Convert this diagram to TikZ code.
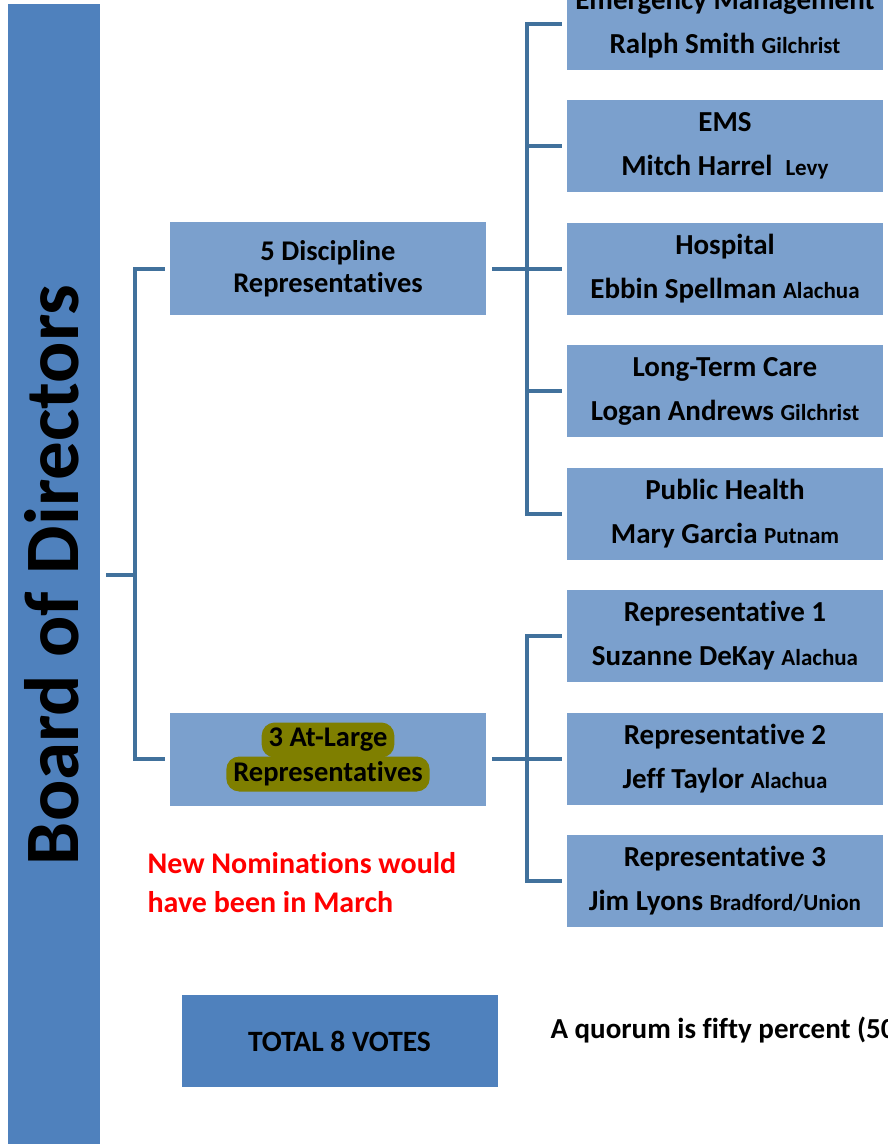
\documentclass[tikz,border=0pt]{standalone}
\usepackage{fontspec}
\setmainfont{Carlito}[Ligatures=NoCommon]
\definecolor{barblue}{HTML}{4F81BD}
\definecolor{boxblue}{HTML}{7BA0CD}
\definecolor{lineblue}{HTML}{41719C}
\definecolor{hl}{HTML}{7F7F00}
\newcommand{\cty}[1]{{\fontsize{23}{44}\selectfont #1}}
\begin{document}
\begin{tikzpicture}[x=1pt,y=-1pt,
  bar/.style={fill=barblue,draw=none,inner sep=0pt,minimum width=92pt,minimum height=1140pt},
  grp/.style={fill=boxblue,draw=none,inner sep=0pt,minimum width=316pt,minimum height=93pt,align=center,font=\bfseries\fontsize{28.5}{32}\selectfont},
  rbox/.style={fill=boxblue,draw=none,inner sep=0pt,minimum width=316pt,minimum height=92pt,align=center,font=\bfseries\fontsize{29}{44}\selectfont},
  conn/.style={draw=lineblue,line width=4pt},
  hlbox/.style={fill=hl,rounded corners=13pt,inner xsep=7pt,inner ysep=0pt,minimum height=35pt,font=\bfseries\fontsize{28.5}{32}\selectfont},
  tot/.style={fill=barblue,draw=none,inner sep=0pt,minimum width=316pt,minimum height=92pt,font=\bfseries\fontsize{29.5}{30}\selectfont},
]
\clip (0,0) rectangle (888,1144);
\useasboundingbox (0,0) rectangle (888,1144);
\fill[white] (0,0) rectangle (888,1144);

\node[bar] (bar) at (54,574) {};
\node[rotate=90,font=\bfseries\fontsize{77}{80}\selectfont] (bartxt) at (52,575) {Board of Directors};

\node[grp] (disc) at (328,268.5) {5 Discipline\\Representatives};
\node[grp] (atl) at (328,759) {};
\node[hlbox] (atl2) at (328,774) {Representatives};
\node[hlbox] (atl1) at (328,740) {3 At-Large};

\node[rbox] (em) at (725,24) {Emergency Management\\Ralph Smith \cty{Gilchrist}};
\node[rbox] (ems) at (725,146) {EMS\\Mitch Harrel\ \ \cty{Levy}};
\node[rbox] (hosp) at (725,268.5) {Hospital\\Ebbin Spellman \cty{Alachua}};
\node[rbox] (ltc) at (725,391) {Long-Term Care\\Logan Andrews \cty{Gilchrist}};
\node[rbox] (ph) at (725,514) {Public Health\\Mary Garcia \cty{Putnam}};
\node[rbox] (r1) at (725,636) {Representative 1\\Suzanne DeKay \cty{Alachua}};
\node[rbox] (r2) at (725,759) {Representative 2\\Jeff Taylor \cty{Alachua}};
\node[rbox] (r3) at (725,881) {Representative 3\\Jim Lyons \cty{Bradford/Union}};

\node[text=red,align=left,anchor=west,font=\bfseries\fontsize{30}{39}\selectfont] (nom) at (144,883) {New Nominations would\\have been in March};

\node[tot] (total) at (339.5,1041) {TOTAL 8 VOTES};
\node[anchor=west,font=\bfseries\fontsize{29}{30}\selectfont] (quorum) at (547,1030) {A quorum is fifty percent (50\%) plus one};

% left bracket
\draw[conn] ([xshift=6pt]bar.east |- 0,575) -- (135,575);
\draw[conn] ([xshift=-5pt]disc.west) -- ++(-30,0) |- ([xshift=-5pt]atl.west);

% top right bracket
\draw[conn] ([xshift=6pt]disc.east) -- ++(35,0);
\draw[conn] ([xshift=-5pt]em.west) -- ++(-35,0) |- ([xshift=-5pt]ph.west);
\draw[conn] ([xshift=-5pt]ems.west) -- ++(-35,0);
\draw[conn] ([xshift=-5pt]hosp.west) -- ++(-35,0);
\draw[conn] ([xshift=-5pt]ltc.west) -- ++(-35,0);

% bottom right bracket
\draw[conn] ([xshift=6pt]atl.east) -- ++(35,0);
\draw[conn] ([xshift=-5pt]r1.west) -- ++(-35,0) |- ([xshift=-5pt]r3.west);
\draw[conn] ([xshift=-5pt]r2.west) -- ++(-35,0);
\end{tikzpicture}
\end{document}
